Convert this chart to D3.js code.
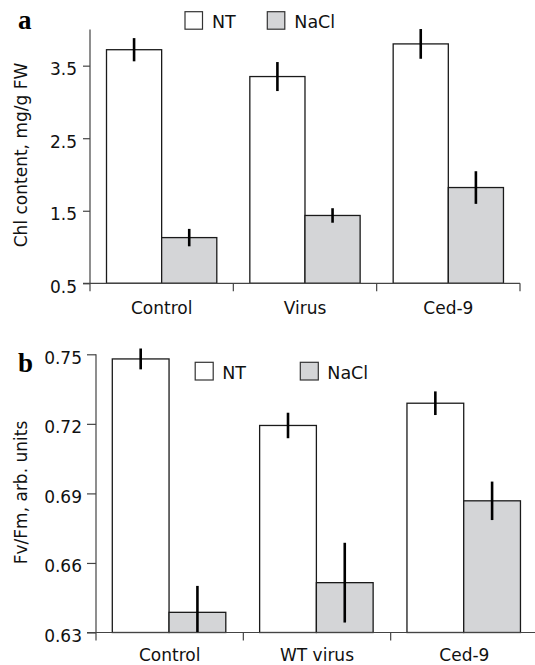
<!DOCTYPE html>
<html>
<head>
<meta charset="utf-8">
<script src="https://cdn.jsdelivr.net/npm/d3@7"></script>
<style>
  body { margin: 0; background: #fff; }
  svg { display: block; font-family: 'DejaVu Sans', sans-serif; }
  .axis path, .axis line { stroke: #444; stroke-width: 1.2; }
  .axis text { font-family: 'DejaVu Sans', sans-serif; font-size: 17px; fill: #111; }
  .bar { stroke: #1a1a1a; stroke-width: 1.3; }
  .err { stroke: #000; stroke-width: 2.6; }
  .letter { font-family: 'Liberation Serif', serif; font-weight: bold; font-size: 27px; }
</style>
</head>
<body>
<script>

// data, panel a: chlorophyll content
const chlCategories = ['Control', 'Virus', 'Ced-9']
const chlNT = [3.72, 3.35, 3.80]
const chlNTErr = [0.16, 0.20, 0.205]
const chlNaCl = [1.13, 1.435, 1.82]
const chlNaClErr = [0.12, 0.10, 0.225]
const chlTicks = [0.5, 1.5, 2.5, 3.5]

// data, panel b: Fv/Fm
const fvCategories = ['Control', 'WT virus', 'Ced-9']
const fvNT = [0.748, 0.7193, 0.7289]
const fvNTErr = [0.0045, 0.0055, 0.0051]
const fvNaCl = [0.6387, 0.6515, 0.6868]
const fvNaClErr = [0.0114, 0.0172, 0.0083]
const fvTicks = [0.63, 0.66, 0.69, 0.72, 0.75]

const seriesNames = ['NT', 'NaCl']
const FILLS = { NT: '#ffffff', NaCl: '#d4d5d7' }

// layout
const PANELS = [
  {
    letter: 'a', ylabel: 'Chl content, mg/g FW',
    categories: chlCategories, values: [chlNT, chlNaCl], errors: [chlNTErr, chlNaClErr],
    ticks: chlTicks, format: '.1f', domain: [0.5, 4.0],
    top: 29.4, bottom: 283.3, left: 90, right: 520,
    inner: [16.5, 126.8], tickSize: 7, tickPad: 6, catPad: 18.6,
    ylabelY: 155, letterY: 29.3,
    legend: { x: 185, y: 11.7, gap: 82.3, w: 17.5, h: 17.5 }
  },
  {
    letter: 'b', ylabel: 'Fv/Fm, arb. units',
    categories: fvCategories, values: [fvNT, fvNaCl], errors: [fvNTErr, fvNaClErr],
    ticks: fvTicks, format: '.2f', domain: [0.63, 0.75],
    top: 354.3, bottom: 632.5, left: 96, right: 538,
    inner: [16.3, 129.8], tickSize: 9, tickPad: 5, catPad: 16.4,
    ylabelY: 492.5, letterY: 371.7,
    legend: { x: 195.2, y: 362.3, gap: 105.1, w: 18, h: 17.7 }
  }
]

const svg = d3.select('body').append('svg')
  .attr('width', 535)
  .attr('height', 665)

PANELS.forEach(drawPanel)

function drawPanel(p) {
  let g = svg.append('g')

  let x0 = d3.scaleBand()
    .domain(p.categories)
    .range([p.left, p.right])

  let x1 = d3.scaleBand()
    .domain(seriesNames)
    .range(p.inner)

  let y = d3.scaleLinear()
    .domain(p.domain)
    .range([p.bottom, p.top])

  let rows = []
  p.categories.forEach((c, i) => {
    seriesNames.forEach((s, j) => {
      rows.push({ cat: c, series: s, value: p.values[j][i], err: p.errors[j][i] })
    })
  })

  // bars
  g.append('g').selectAll('rect')
      .data(rows)
    .enter().append('rect')
      .attr('class', 'bar')
      .attr('x', (d) => x0(d.cat) + x1(d.series))
      .attr('y', (d) => y(d.value))
      .attr('width', x1.bandwidth())
      .attr('height', (d) => y(p.domain[0]) - y(d.value))
      .attr('fill', (d) => FILLS[d.series])

  // error bars (clipped at the axis)
  g.append('g').selectAll('line')
      .data(rows)
    .enter().append('line')
      .attr('class', 'err')
      .attr('x1', (d) => x0(d.cat) + x1(d.series) + x1.bandwidth() / 2)
      .attr('x2', (d) => x0(d.cat) + x1(d.series) + x1.bandwidth() / 2)
      .attr('y1', (d) => y(d.value + d.err))
      .attr('y2', (d) => y(Math.max(d.value - d.err, p.domain[0])))

  // y axis
  let yAxis = g.append('g')
    .attr('class', 'axis')
    .attr('transform', 'translate(' + p.left + ',0)')
    .call(d3.axisLeft(y)
      .tickValues(p.ticks)
      .tickFormat(d3.format(p.format))
      .tickSize(p.tickSize)
      .tickPadding(p.tickPad)
      .tickSizeOuter(0))
  yAxis.select('.domain')
    .attr('d', 'M0,' + p.top + 'V' + (p.bottom + 8))
  yAxis.selectAll('text')
    .attr('dy', '0.52em')

  // x axis: category labels + separator ticks
  let xAxis = g.append('g')
    .attr('class', 'axis')
    .attr('transform', 'translate(0,' + p.bottom + ')')
    .call(d3.axisBottom(x0)
      .tickSize(0)
      .tickPadding(p.catPad))
  xAxis.select('.domain')
    .attr('d', 'M' + (p.left - p.tickSize) + ',0H' + p.right)

  xAxis.selectAll('.sep')
      .data(p.categories)
    .enter().append('line')
      .attr('class', 'sep')
      .attr('x1', (d) => x0(d) + x0.step())
      .attr('x2', (d) => x0(d) + x0.step())
      .attr('y1', 0)
      .attr('y2', 8)

  // y label
  g.append('text')
    .attr('transform', 'translate(27,' + p.ylabelY + ') rotate(-90)')
    .attr('text-anchor', 'middle')
    .attr('font-size', '17px')
    .attr('fill', '#111')
    .text(p.ylabel)

  // panel letter
  g.append('text')
    .attr('class', 'letter')
    .attr('x', 18)
    .attr('y', p.letterY)
    .text(p.letter)

  // legend
  let lg = g.append('g').selectAll('.item')
      .data(seriesNames)
    .enter().append('g')
      .attr('transform', (d, i) => 'translate(' + (p.legend.x + i * p.legend.gap) + ',' + p.legend.y + ')')

  lg.append('rect')
    .attr('width', p.legend.w)
    .attr('height', p.legend.h)
    .attr('fill', (d) => FILLS[d])
    .attr('stroke', '#333')
    .attr('stroke-width', 1.2)

  lg.append('text')
    .attr('x', 27)
    .attr('y', p.legend.h - 0.8)
    .attr('font-size', '17.5px')
    .attr('fill', '#111')
    .text((d) => d)
}

</script>
</body>
</html>
